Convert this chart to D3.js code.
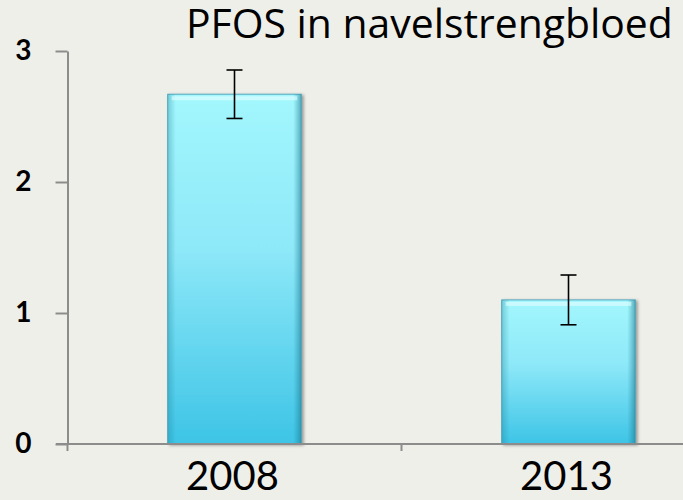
<!DOCTYPE html>
<html>
<head>
<meta charset="utf-8">
<script src="https://cdn.jsdelivr.net/npm/d3@7"></script>
<style>
  body { margin: 0; background: #efefea; }
  svg { display: block; }
  .axis path, .axis line { stroke: #8c8c8c; stroke-width: 2; }
</style>
</head>
<body>
<svg id="chart"></svg>
<script>
var width = 683;
var height = 500;

// data
var years = ["2008", "2013"];
var values = [2.67, 1.10];
var errors = [0.185, 0.19];
var yTicks = [0, 1, 2, 3];
var title = "PFOS in navelstrengbloed";

var svg = d3.select("#chart")
    .attr("width", width)
    .attr("height", height);

// plot area runs past the right edge, like the original slide
var x = d3.scaleBand()
    .domain(years)
    .range([67.5, 735.5])
    .paddingInner(0.6)
    .paddingOuter(0.3);

var y = d3.scaleLinear()
    .domain([0, 3])
    .range([444, 51]);

// gradients for the bevelled bars
var defs = svg.append("defs");
var vg = defs.append("linearGradient")
    .attr("id", "barFill")
    .attr("x1", 0).attr("y1", 0).attr("x2", 0).attr("y2", 1);
vg.append("stop").attr("offset", "0%").attr("stop-color", "#a3f7fd");
vg.append("stop").attr("offset", "45%").attr("stop-color", "#8de8f8");
vg.append("stop").attr("offset", "100%").attr("stop-color", "#3dc4e6");

var hg = defs.append("linearGradient")
    .attr("id", "barEdge")
    .attr("x1", 0).attr("y1", 0).attr("x2", 1).attr("y2", 0);
hg.append("stop").attr("offset", "0%").attr("stop-color", "#1b7f96").attr("stop-opacity", 0.35);
hg.append("stop").attr("offset", "6%").attr("stop-color", "#1b7f96").attr("stop-opacity", 0);
hg.append("stop").attr("offset", "94%").attr("stop-color", "#1b7f96").attr("stop-opacity", 0);
hg.append("stop").attr("offset", "100%").attr("stop-color", "#1b6f86").attr("stop-opacity", 0.55);

var shadow = defs.append("filter").attr("id", "shadow")
    .attr("x", "-10%").attr("y", "-10%").attr("width", "130%").attr("height", "130%");
shadow.append("feDropShadow")
    .attr("dx", 2).attr("dy", 1).attr("stdDeviation", 1.5)
    .attr("flood-color", "#000").attr("flood-opacity", 0.35);

// y axis
svg.append("g")
    .attr("class", "axis")
    .attr("transform", "translate(67.5,0)")
    .call(d3.axisLeft(y).tickValues(yTicks).tickFormat(d3.format("d"))
        .tickSize(12).tickSizeOuter(0).tickPadding(24))
    .call(function(g) {
        g.selectAll("text")
            .style("font-family", "Lato, 'Open Sans', sans-serif")
            .style("font-size", "28px")
            .style("font-weight", "bold")
            .style("fill", "#000");
    });

// bars
var bars = svg.append("g").selectAll("g.bar")
    .data(years)
    .enter().append("g")
    .attr("class", "bar");

bars.append("rect")
    .attr("x", function(d) { return x(d); })
    .attr("y", function(d, i) { return y(values[i]); })
    .attr("width", x.bandwidth())
    .attr("height", function(d, i) { return y(0) - y(values[i]); })
    .style("fill", "url(#barFill)")
    .style("stroke", "#58a9bd")
    .style("stroke-width", 1)
    .attr("filter", "url(#shadow)");

bars.append("rect")
    .attr("x", function(d) { return x(d); })
    .attr("y", function(d, i) { return y(values[i]); })
    .attr("width", x.bandwidth())
    .attr("height", function(d, i) { return y(0) - y(values[i]); })
    .style("fill", "url(#barEdge)");

// top highlight of the bevel
bars.append("rect")
    .attr("x", function(d) { return x(d) + 4; })
    .attr("y", function(d, i) { return y(values[i]) + 2; })
    .attr("width", x.bandwidth() - 8)
    .attr("height", 4)
    .style("fill", "#e4fdff")
    .style("opacity", 0.6);

// x axis
var xAxisG = svg.append("g")
    .attr("class", "axis")
    .attr("transform", "translate(0,444)");

xAxisG.append("line")
    .attr("x1", 56).attr("x2", width + 60)
    .attr("y1", 0).attr("y2", 0);

var step = x.step();
var edges = years.map(function(d) { return x(d) - (step - x.bandwidth()) / 2; });
edges.push(edges[edges.length - 1] + step);
xAxisG.selectAll("line.edge")
    .data(edges)
    .enter().append("line")
    .attr("class", "edge")
    .attr("x1", function(d) { return d; })
    .attr("x2", function(d) { return d; })
    .attr("y1", 0).attr("y2", 7);

xAxisG.selectAll("text")
    .data(years)
    .enter().append("text")
    .attr("x", function(d) { return x(d) + x.bandwidth() / 2 - 2; })
    .attr("y", 46)
    .style("text-anchor", "middle")
    .style("font-family", "Lato, 'Open Sans', sans-serif")
    .style("font-size", "40px")
    .style("fill", "#000")
    .text(function(d) { return d; });

// error bars
var err = svg.append("g").selectAll("g.err")
    .data(years)
    .enter().append("g")
    .attr("class", "err")
    .style("stroke", "#000")
    .style("stroke-width", 1.6);

var cx = function(d) { return x(d) + x.bandwidth() / 2; };
err.append("line")
    .attr("x1", cx).attr("x2", cx)
    .attr("y1", function(d, i) { return y(values[i] + errors[i]); })
    .attr("y2", function(d, i) { return y(values[i] - errors[i]); });
err.append("line")
    .attr("x1", function(d) { return cx(d) - 8; })
    .attr("x2", function(d) { return cx(d) + 8; })
    .attr("y1", function(d, i) { return y(values[i] + errors[i]); })
    .attr("y2", function(d, i) { return y(values[i] + errors[i]); });
err.append("line")
    .attr("x1", function(d) { return cx(d) - 8; })
    .attr("x2", function(d) { return cx(d) + 8; })
    .attr("y1", function(d, i) { return y(values[i] - errors[i]); })
    .attr("y2", function(d, i) { return y(values[i] - errors[i]); });

// title, sized to the width it has in the original
var t = svg.append("text")
    .attr("x", 186)
    .attr("y", 38)
    .style("font-family", "'Open Sans', sans-serif")
    .style("font-size", "30px")
    .style("fill", "#000")
    .text(title);
var tw = t.node().getComputedTextLength();
t.style("font-size", (30 * 487 / tw) + "px");
</script>
</body>
</html>
